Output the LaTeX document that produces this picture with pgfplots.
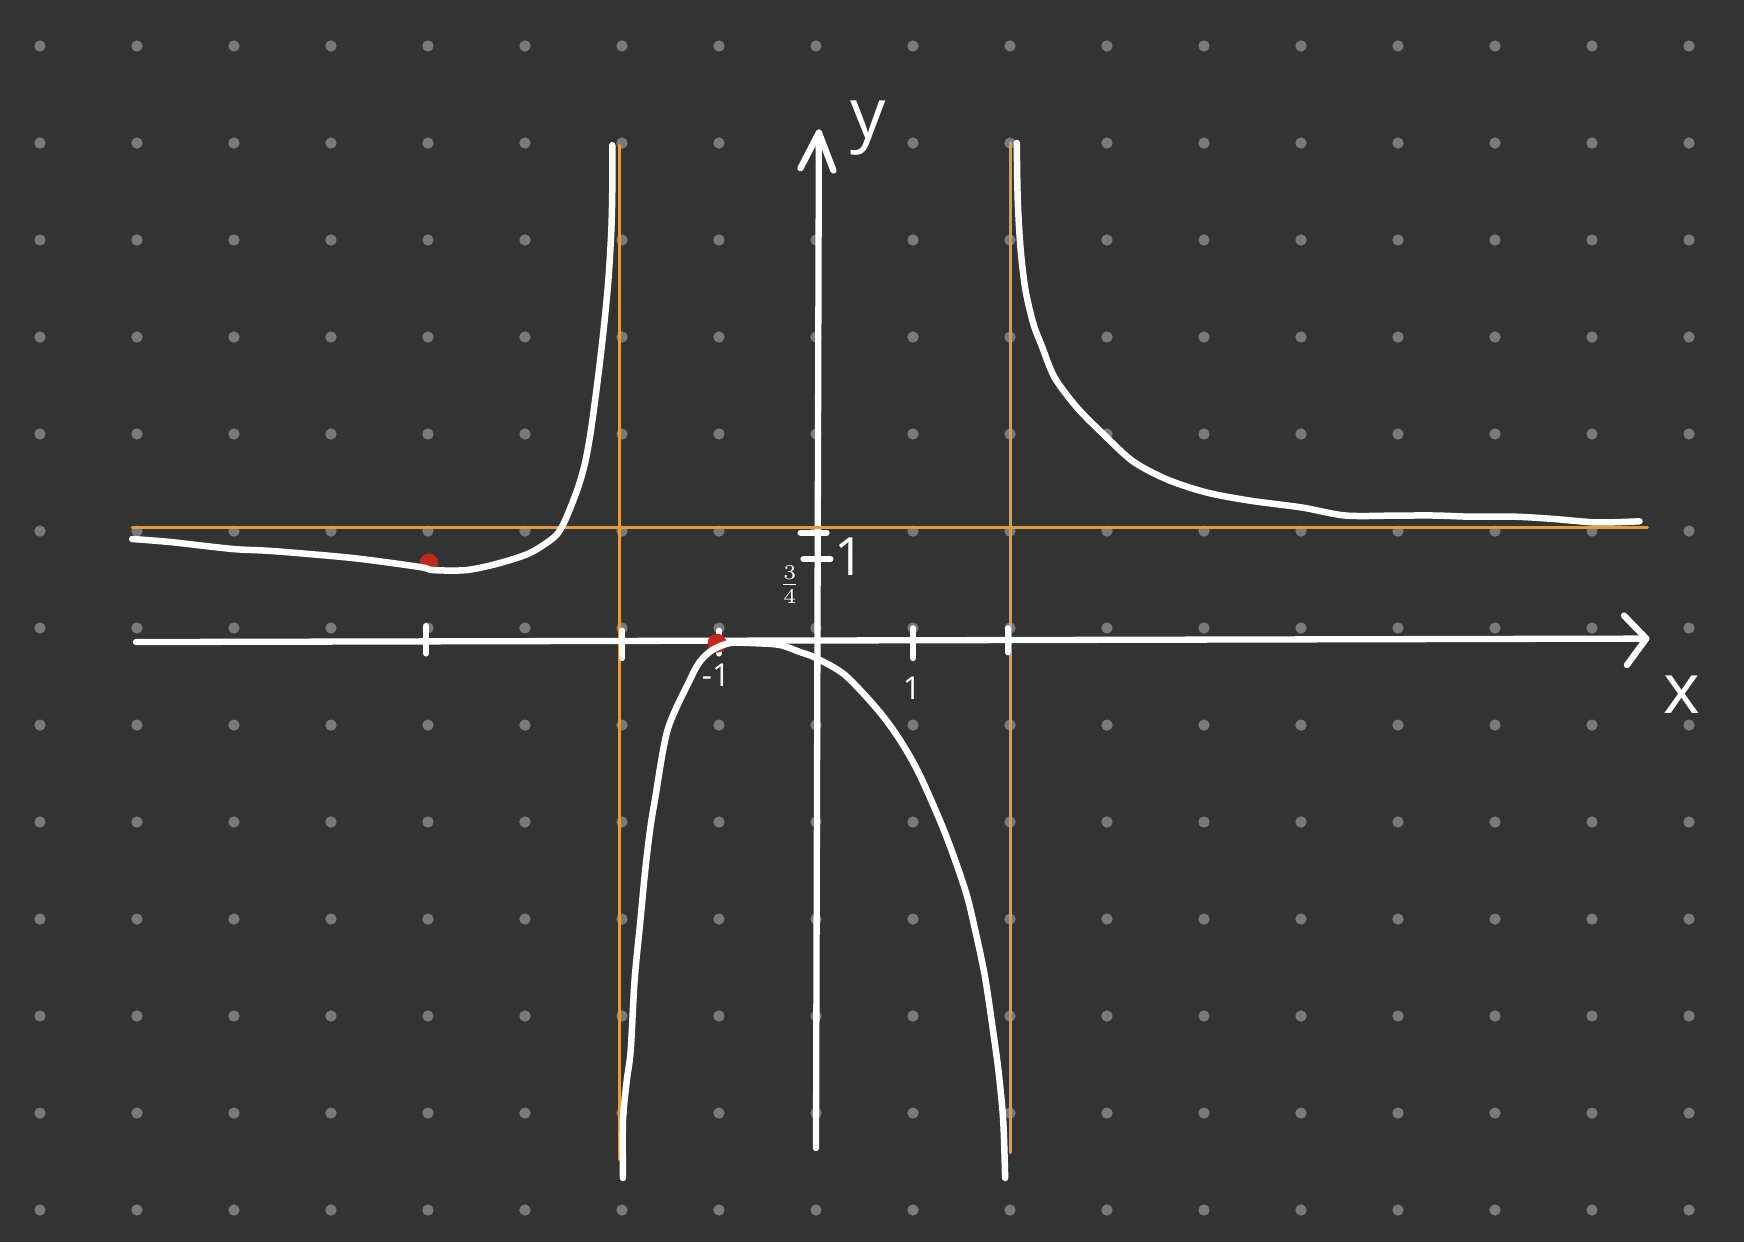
\documentclass[border=0pt]{standalone}
\usepackage{pgfplots}
\pgfplotsset{compat=1.18}
\usepackage{fontspec}
\setmainfont{Open Sans}
\usetikzlibrary{backgrounds}

\definecolor{bg}{HTML}{333333}
\definecolor{dotgray}{HTML}{7A7A7A}
\definecolor{asym}{HTML}{E39B3F}
\definecolor{redpt}{HTML}{C0281E}

\begin{document}
\begin{tikzpicture}[show background rectangle, inner frame sep=0pt,
    background rectangle/.style={fill=bg, draw=none}]
\begin{axis}[
    scale only axis, width=17.44cm, height=12.42cm,
    xmin=-8.412, xmax=9.567, ymin=-5.217, ymax=5.583,
    hide axis, clip=false, clip mode=individual,
    every axis plot/.append style={line cap=round, line join=round},
]
% full frame for the bounding box
\path (rel axis cs:0,0) rectangle (rel axis cs:1,1);

% dotted paper
\pgfplotsinvokeforeach{-8,...,9}{
  \addplot[dotgray, only marks, mark=*, mark size=1.4pt,
    mark options={draw=dotgray, fill=dotgray}] coordinates {
    (#1,5.183) (#1,4.339) (#1,3.496) (#1,2.652) (#1,1.809) (#1,0.965) (#1,0.122)
    (#1,-0.722) (#1,-1.565) (#1,-2.409) (#1,-3.252) (#1,-4.096) (#1,-4.939)};
}

% y axis
\addplot[white, line width=0.63mm] coordinates {(0,-4.40) (0.03,4.43)};
\addplot[white, line width=0.63mm] coordinates {(-0.16,4.12) (0.03,4.43) (0.18,4.10)};

% asymptotes
\addplot[asym, line width=0.3mm] coordinates {(-7.05,1) (8.57,1)};
\addplot[asym, line width=0.3mm] coordinates {(-2.03,4.32) (-2.03,-4.50)};
\addplot[asym, line width=0.3mm] coordinates {(2.01,4.34) (2.01,-4.44)};

% x axis
\addplot[white, line width=0.63mm] coordinates {(-7.01,0) (8.56,0.03)};
\addplot[white, line width=0.63mm] coordinates {(8.33,0.23) (8.56,0.03) (8.36,-0.20)};

% ticks
\addplot[white, line width=0.6mm] coordinates {(-4.02,0.14) (-4.02,-0.10)};
\addplot[white, line width=0.6mm] coordinates {(-2.0,0.10) (-2.0,-0.14)};
\addplot[white, line width=0.6mm] coordinates {(-1.0,0.10) (-1.0,-0.10)};
\addplot[white, line width=0.6mm] coordinates {(1.0,0.12) (1.0,-0.14)};
\addplot[white, line width=0.6mm] coordinates {(1.98,0.12) (1.98,-0.09)};
\addplot[white, line width=0.6mm] coordinates {(-0.16,0.95) (0.11,0.95)};
\addplot[white, line width=0.6mm] coordinates {(-0.13,0.72) (0.15,0.72)};

% extrema
\addplot[redpt, only marks, mark=*, mark size=2.5pt,
  mark options={draw=redpt, fill=redpt}] coordinates {(-3.99,0.687) (-1.02,-0.01)};

% left branch
\addplot[white, line width=0.65mm, smooth, tension=0.5] coordinates {
  (-7.05,0.896) (-6.66,0.870) (-6.01,0.809) (-5.60,0.791) (-4.77,0.730)
  (-4.08,0.652) (-3.95,0.626) (-3.60,0.626) (-3.26,0.687) (-2.95,0.774)
  (-2.71,0.904) (-2.62,1.00) (-2.54,1.15) (-2.45,1.35) (-2.38,1.56)
  (-2.32,1.84) (-2.25,2.28) (-2.19,2.71) (-2.14,3.15) (-2.11,3.58)
  (-2.10,3.93) (-2.10,4.32)};

% middle branch
\addplot[white, line width=0.65mm, smooth, tension=0.5] coordinates {
  (-1.99,-4.66) (-1.99,-4.16) (-1.95,-3.81) (-1.91,-3.55) (-1.87,-2.94)
  (-1.81,-2.42) (-1.76,-1.98) (-1.71,-1.63) (-1.66,-1.37) (-1.53,-0.765)
  (-1.30,-0.330) (-1.20,-0.174) (-1.07,-0.070) (-0.887,-0.009) (-0.63,-0.01)
  (-0.371,-0.026) (-0.165,-0.087) (0,-0.139) (0.299,-0.287) (0.639,-0.591)
  (0.866,-0.852) (1.07,-1.157) (1.33,-1.66) (1.54,-2.16)
  (1.64,-2.50) (1.74,-2.90) (1.81,-3.29) (1.88,-3.72) (1.93,-4.16)
  (1.95,-4.66)};

% right branch
\addplot[white, line width=0.65mm, smooth, tension=0.5] coordinates {
  (2.07,4.34) (2.08,3.84) (2.11,3.41) (2.16,3.06) (2.24,2.77) (2.33,2.57)
  (2.46,2.30) (2.69,2.04) (2.96,1.81) (3.27,1.57) (3.63,1.41) (4.03,1.30)
  (4.47,1.23) (5.01,1.17) (5.46,1.10) (6.00,1.10) (6.40,1.10) (6.75,1.09)
  (7.21,1.09) (7.61,1.07) (8.05,1.04) (8.49,1.05)};

% labels
\node[white, font=\fontsize{20}{20}\selectfont] at (axis cs:0.54,4.47) {y};
\node[white, font=\fontsize{20}{20}\selectfont] at (axis cs:8.93,-0.46) {x};
\node[white, font=\fontsize{15}{15}\selectfont] at (axis cs:0.35,0.74) {1};
\node[white, font=\fontsize{9}{9}\selectfont] at (axis cs:-0.27,0.50) {$\frac{3}{4}$};
\node[white, font=\fontsize{9}{9}\selectfont] at (axis cs:-1.03,-0.29) {-1};
\node[white, font=\fontsize{9}{9}\selectfont] at (axis cs:0.99,-0.40) {1};
\end{axis}
\end{tikzpicture}
\end{document}
